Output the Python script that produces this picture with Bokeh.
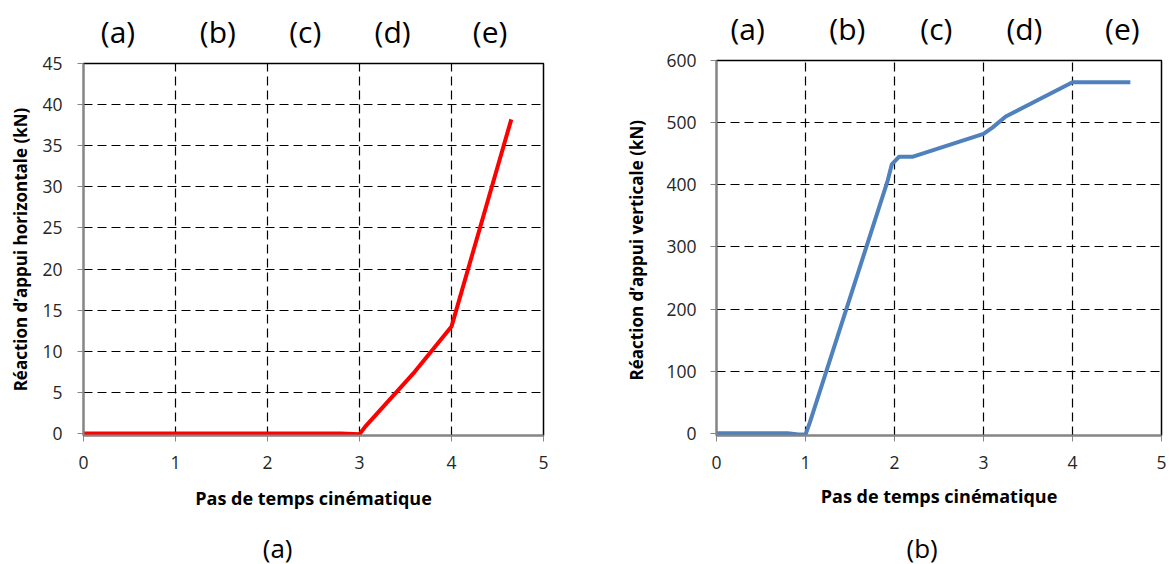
from bokeh.plotting import figure
from bokeh.layouts import row, column
from bokeh.models import Range1d, FixedTicker
from bokeh.core.properties import value
from bokeh.embed import file_html
from bokeh.resources import INLINE

# ---- data ----
h_x = [0, 2.8, 3.0, 3.06, 3.6, 4.0, 4.65]
h_y = [0, 0, -0.1, 0.8, 7.5, 13.0, 38.2]

v_x = [0, 0.8, 0.92, 1.0, 1.05, 1.92, 1.97, 2.05, 2.2, 3.0, 3.1, 3.25, 4.0, 4.65]
v_y = [0, 0, -2, -2, 18, 405, 433, 445, 445, 482, 492, 510, 565, 565]

phase_labels = ["(a)", "(b)", "(c)", "(d)", "(e)"]
phase_x_left = [0.375, 1.46, 2.41, 3.36, 4.42]
phase_x_right = [0.35, 1.47, 2.47, 3.46, 4.56]

caption_left = "(a)"
caption_right = "(b)"
caption_x_left = 2.11
caption_x_right = 2.31

x_ticks = [0, 1, 2, 3, 4, 5]
h_ticks = [0, 5, 10, 15, 20, 25, 30, 35, 40, 45]
v_ticks = [0, 100, 200, 300, 400, 500, 600]

FONT = "Open Sans"
AXIS_GRAY = "#868686"
TICK_COLOR = "#262626"


def style(p, yticks, ylabel, y_label_standoff, y_title_standoff, x_title_standoff):
    p.xaxis.ticker = FixedTicker(ticks=x_ticks)
    p.yaxis.ticker = FixedTicker(ticks=yticks)
    for ax in (p.xaxis[0], p.yaxis[0]):
        ax.axis_line_color = AXIS_GRAY
        ax.axis_line_width = 2
        ax.major_tick_line_color = AXIS_GRAY
        ax.major_tick_line_width = 1
        ax.major_tick_out = 6
        ax.major_tick_in = 0
        ax.minor_tick_line_color = None
        ax.major_label_text_font = FONT
        ax.major_label_text_font_size = "17.5px"
        ax.major_label_text_color = TICK_COLOR
        ax.axis_label_text_font = FONT
        ax.axis_label_text_font_style = "bold"
        ax.axis_label_text_color = "#000000"
    p.xaxis.axis_label_text_font_size = "18px"
    p.yaxis.axis_label_text_font_size = "17px"
    p.xaxis.axis_label = "Pas de temps cinématique"
    p.yaxis.axis_label = ylabel
    p.xaxis.major_label_standoff = 14
    p.yaxis.major_label_standoff = y_label_standoff
    p.xaxis.axis_label_standoff = x_title_standoff
    p.yaxis.axis_label_standoff = y_title_standoff
    for g in (p.xgrid[0], p.ygrid[0]):
        g.grid_line_color = "#000000"
        g.grid_line_dash = "9 5"
        g.grid_line_width = 1.2
    p.xgrid.ticker = FixedTicker(ticks=x_ticks[1:])
    p.ygrid.ticker = FixedTicker(ticks=yticks[1:])
    p.outline_line_color = "#000000"
    p.outline_line_width = 1.5
    p.background_fill_color = "white"
    p.border_fill_color = "white"


def text_fig(x_range, width, height, left, right, texts, xs, y, size):
    f = figure(width=width, height=height, output_backend="svg", toolbar_location=None,
               x_range=x_range, y_range=Range1d(0, height),
               x_axis_type=None, y_axis_type=None,
               min_border_left=left, min_border_right=right,
               min_border_top=0, min_border_bottom=0)
    f.outline_line_color = None
    f.xgrid.visible = False
    f.ygrid.visible = False
    f.text(x=xs, y=[y] * len(xs), text=texts, text_font=value(FONT),
           text_font_size=size, text_align="center", text_baseline="middle",
           text_color="#000000")
    return f


# ---- left chart ----
xr1 = Range1d(0, 5)
p1 = figure(width=590, height=460, output_backend="svg", toolbar_location=None,
            x_range=xr1, y_range=Range1d(-0.25, 45),
            min_border_left=83, min_border_right=47, min_border_top=11, min_border_bottom=75)
style(p1, h_ticks, "Réaction d’appui horizontale (kN)", 15, 7, 14)
p1.line(h_x, h_y, line_color="#FF0000", line_width=4, line_join="round")
top1 = text_fig(xr1, 590, 52, 83, 47, phase_labels, phase_x_left, 21, "30px")
cap1 = text_fig(xr1, 590, 52, 83, 47, [caption_left], [caption_x_left], 17, "26px")

# ---- right chart ----
xr2 = Range1d(0, 5)
p2 = figure(width=580, height=463, output_backend="svg", toolbar_location=None,
            x_range=xr2, y_range=Range1d(-3.5, 600),
            min_border_left=126, min_border_right=9, min_border_top=11, min_border_bottom=77)
style(p2, v_ticks, "Réaction d’appui verticale  (kN)", 14, 15, 12)
p2.line(v_x, v_y, line_color="#4F81BD", line_width=4, line_join="round")
top2 = text_fig(xr2, 580, 49, 126, 9, phase_labels, phase_x_right, 21.5, "30px")
cap2 = text_fig(xr2, 580, 52, 126, 9, [caption_right], [caption_x_right], 17, "26px")

layout = row(column(top1, p1, cap1, spacing=0), column(top2, p2, cap2, spacing=0), spacing=0)
open("out.html", "w").write(file_html(layout, INLINE))
